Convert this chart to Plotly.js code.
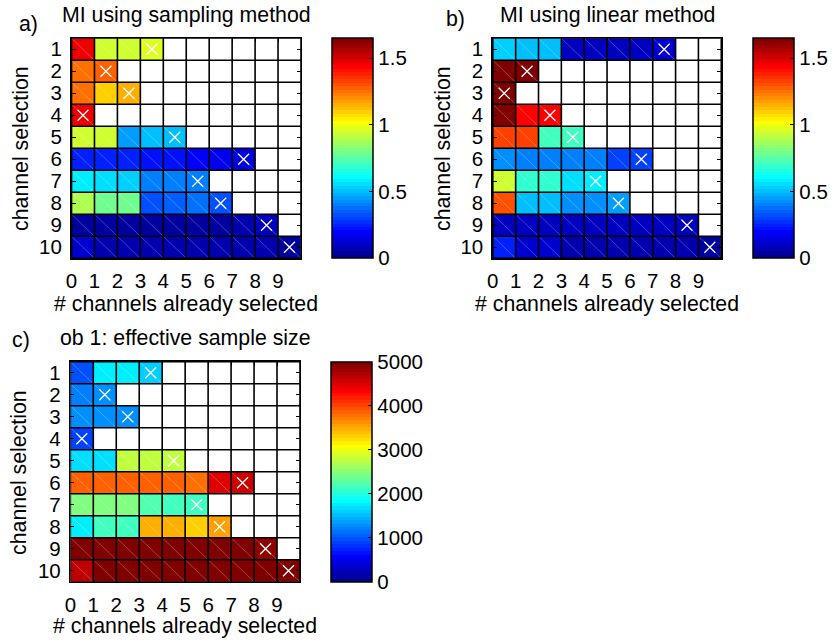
<!DOCTYPE html>
<html>
<head>
<meta charset="utf-8">
<script src="https://cdn.plot.ly/plotly-3.0.1.min.js"></script>
<style>html,body{margin:0;padding:0;background:#fff;}#chart{width:833px;height:640px;}</style>
</head>
<body>
<div id="chart"></div>
<script>
// ---------------- data ----------------
const colLabels = ['0','1','2','3','4','5','6','7','8','9'];
const rowLabels = ['1','2','3','4','5','6','7','8','9','10'];

// a) MI using sampling method (null = not evaluated)
const miSampling = [
  [1.45, 0.93, 0.93, 0.97, null, null, null, null, null, null],
  [1.26, 1.27, null, null, null, null, null, null, null, null],
  [1.26, 1.10, 1.14, null, null, null, null, null, null, null],
  [1.45, null, null, null, null, null, null, null, null, null],
  [0.93, 0.93, 0.46, 0.51, 0.50, null, null, null, null, null],
  [0.25, 0.25, 0.24, 0.22, 0.22, 0.20, 0.18, 0.14, null, null],
  [0.59, 0.55, 0.53, 0.40, 0.39, 0.41, null, null, null, null],
  [0.88, 0.78, 0.79, 0.33, 0.35, 0.37, 0.33, null, null, null],
  [0.05, 0.05, 0.05, 0.05, 0.05, 0.05, 0.05, 0.06, 0.08, null],
  [0.11, 0.06, 0.06, 0.06, 0.06, 0.06, 0.06, 0.06, 0.06, 0.04]
];

// b) MI using linear method
const miLinear = [
  [0.54, 0.49, 0.50, 0.09, 0.09, 0.10, 0.10, 0.11, null, null],
  [1.64, 1.63, null, null, null, null, null, null, null, null],
  [1.64, null, null, null, null, null, null, null, null, null],
  [1.63, 1.44, 1.42, null, null, null, null, null, null, null],
  [1.33, 1.33, 0.70, 0.72, null, null, null, null, null, null],
  [0.42, 0.40, 0.40, 0.40, 0.41, 0.30, 0.29, null, null, null],
  [0.94, 0.68, 0.69, 0.56, 0.57, null, null, null, null, null],
  [1.31, 0.49, 0.49, 0.43, 0.43, 0.44, null, null, null, null],
  [0.09, 0.09, 0.09, 0.09, 0.09, 0.10, 0.10, 0.09, 0.10, null],
  [0.24, 0.11, 0.11, 0.07, 0.07, 0.07, 0.07, 0.07, 0.07, 0.05]
];

// c) ob 1: effective sample size
const essOb1 = [
  [ 980, 1750, 1750, 1600, null, null, null, null, null, null],
  [1200, 1250, null, null, null, null, null, null, null, null],
  [1250, 1300, 1320, null, null, null, null, null, null, null],
  [ 880, null, null, null, null, null, null, null, null, null],
  [1700, 1700, 2750, 2750, 2800, null, null, null, null, null],
  [3880, 3880, 3880, 3900, 3830, 3780, 4470, 4550, null, null],
  [2480, 2480, 2450, 2260, 2130, 2150, null, null, null, null],
  [1780, 2170, 2120, 3500, 3450, 3350, 3560, null, null, null],
  [4930, 4930, 4930, 4930, 4930, 4930, 4930, 4930, 4900, null],
  [4650, 4980, 4980, 4980, 4980, 4980, 4980, 4980, 4980, 4980]
];

const miTicks = [0, 0.5, 1, 1.5];
const miTickText = ['0', '0.5', '1', '1.5'];
const essTicks = [0, 1000, 2000, 3000, 4000, 5000];
const essTickText = ['0', '1000', '2000', '3000', '4000', '5000'];

// ---------------- MATLAB jet(64) stepped colorscale ----------------
function jet64() {
  const n = 16, u = [];
  for (let k = 1; k <= n; k++) u.push(k / n);
  for (let k = 0; k < n - 1; k++) u.push(1);
  for (let k = n; k >= 1; k--) u.push(k / n);
  const cols = [];
  for (let i = 1; i <= 64; i++) {
    const g = (i >= 9 && i <= 55) ? u[i - 9] : 0;
    const r = (i >= 25) ? u[i - 25] : 0;
    const b = (i <= 39) ? u[i - 1 + 8] : 0;
    cols.push('rgb(' + Math.round(r * 255) + ',' + Math.round(g * 255) + ',' + Math.round(b * 255) + ')');
  }
  const cs = [];
  for (let i = 0; i < 64; i++) {
    cs.push([i / 64, cols[i]]);
    cs.push([(i + 1) / 64, cols[i]]);
  }
  return cs;
}
const jet = jet64();

const FONT = 'Liberation Sans, Arial, Helvetica, sans-serif';
const FS = 21.3;   // titles
const TFS = 20.5;  // tick labels
const W = 833, H = 640;
const px = v => v / W, py = v => 1 - v / H;

function heat(z, zmax, xa, ya, cb) {
  return {
    type: 'heatmap', z: z, x0: 0.5, dx: 1, y0: 1, dy: 1,
    zmin: 0, zmax: zmax, colorscale: jet,
    xaxis: xa, yaxis: ya, hoverongaps: false,
    colorbar: Object.assign({
      xanchor: 'left', yanchor: 'middle', lenmode: 'fraction', thicknessmode: 'pixels',
      thickness: 41, xpad: 0, ypad: 0, outlinewidth: 1.5, outlinecolor: 'black',
      ticks: 'inside', ticklen: 4, tickcolor: 'black', tickwidth: 1,
      tickfont: {family: FONT, size: TFS, color: 'black'}
    }, cb)
  };
}

function diag(z, xa, ya) {
  const x = [], y = [];
  z.forEach((row, i) => row.forEach((v, j) => {
    if (v !== null) { x.push(j, j + 1, null); y.push(i + 0.5, i + 1.5, null); }
  }));
  return {type: 'scatter', mode: 'lines', x: x, y: y, xaxis: xa, yaxis: ya,
    line: {color: 'rgba(255,255,255,0.35)', width: 0.7}, hoverinfo: 'skip', showlegend: false};
}

function picks(z, xa, ya) {
  const x = [], y = [];
  z.forEach((row, i) => {
    let last = -1;
    row.forEach((v, j) => { if (v !== null) last = j; });
    if (last >= 0) { x.push(last + 0.5); y.push(i + 1); }
  });
  return {type: 'scatter', mode: 'markers', x: x, y: y, xaxis: xa, yaxis: ya,
    marker: {symbol: 'x-thin', size: 11, color: 'white', line: {color: 'white', width: 1.3}},
    hoverinfo: 'skip', showlegend: false};
}

// black cell edges (pcolor edge lines), drawn above the cells
function gridShapes(nCols, nRows, xa, ya) {
  const s = [];
  const ln = {color: 'black', width: 1.6};
  for (let k = 0; k <= nCols; k++)
    s.push({type: 'line', layer: 'above', xref: xa, yref: ya, x0: k, x1: k, y0: 0.5, y1: nRows + 0.5, line: ln});
  for (let k = 0; k <= nRows; k++)
    s.push({type: 'line', layer: 'above', xref: xa, yref: ya, x0: 0, x1: nCols, y0: k + 0.5, y1: k + 0.5, line: ln});
  return s;
}

function xAxis(domain, anchor) {
  return {
    domain: domain, anchor: anchor, range: [0, 10],
    tickmode: 'array', tickvals: colLabels.map(Number), ticktext: colLabels,
    showgrid: false, zeroline: false,
    showline: true, linecolor: 'black', linewidth: 1.5, mirror: 'ticks',
    ticks: 'inside', ticklen: 4, tickcolor: 'black', ticklabelstandoff: 4,
    tickfont: {family: FONT, size: TFS, color: 'black'}, fixedrange: true
  };
}
function yAxis(domain, anchor) {
  return {
    domain: domain, anchor: anchor, range: [10.5, 0.5],
    tickmode: 'array', tickvals: rowLabels.map(Number), ticktext: rowLabels,
    showgrid: false, zeroline: false,
    showline: true, linecolor: 'black', linewidth: 1.5, mirror: 'ticks',
    ticks: 'inside', ticklen: 4, tickcolor: 'black', ticklabelstandoff: 4,
    tickfont: {family: FONT, size: TFS, color: 'black'}, fixedrange: true
  };
}

const data = [
  heat(miSampling, 1.65, 'x', 'y', {x: px(333), y: py(148.3), len: 220 / H, tickvals: miTicks, ticktext: miTickText}),
  diag(miSampling, 'x', 'y'), picks(miSampling, 'x', 'y'),
  heat(miLinear, 1.65, 'x2', 'y2', {x: px(755), y: py(148.3), len: 220 / H, tickvals: miTicks, ticktext: miTickText}),
  diag(miLinear, 'x2', 'y2'), picks(miLinear, 'x2', 'y2'),
  heat(essOb1, 5000, 'x3', 'y3', {x: px(332), y: py(471.7), len: 220 / H, tickvals: essTicks, ticktext: essTickText}),
  diag(essOb1, 'x3', 'y3'), picks(essOb1, 'x3', 'y3')
];

function txt(text, x, y, angle) {
  return {text: text, x: x, y: y, xref: 'paper', yref: 'paper', showarrow: false,
    xanchor: 'center', yanchor: 'middle', textangle: angle || 0,
    font: {family: FONT, size: FS, color: 'black'}};
}

const layout = {
  width: W, height: H, margin: {l: 0, r: 0, t: 0, b: 0},
  paper_bgcolor: 'white', plot_bgcolor: 'white', showlegend: false,
  xaxis: xAxis([px(71.7), px(301.7)], 'y'),
  yaxis: yAxis([py(258.3), py(38.3)], 'x'),
  xaxis2: xAxis([px(494), px(723)], 'y2'),
  yaxis2: yAxis([py(258.3), py(38.3)], 'x2'),
  xaxis3: xAxis([px(70.5), px(300.7)], 'y3'),
  yaxis3: yAxis([py(581.7), py(361.7)], 'x3'),
  shapes: [].concat(
    gridShapes(colLabels.length, rowLabels.length, 'x', 'y'),
    gridShapes(colLabels.length, rowLabels.length, 'x2', 'y2'),
    gridShapes(colLabels.length, rowLabels.length, 'x3', 'y3')
  ),
  annotations: [
    txt('a)', px(29), py(24)),
    txt('MI using sampling method', px(187), py(15)),
    txt('b)', px(457), py(19)),
    txt('MI using linear method', px(609), py(15)),
    txt('c)', px(21), py(340)),
    txt('ob 1: effective sample size', px(186), py(338)),
    txt('# channels already selected', px(186), py(304)),
    txt('# channels already selected', px(608), py(304)),
    txt('# channels already selected', px(185), py(626)),
    txt('channel selection', px(21), py(148), -90),
    txt('channel selection', px(444), py(148), -90),
    txt('channel selection', px(19), py(472), -90)
  ]
};

Plotly.newPlot('chart', data, layout, {staticPlot: true, displayModeBar: false});
</script>
</body>
</html>
